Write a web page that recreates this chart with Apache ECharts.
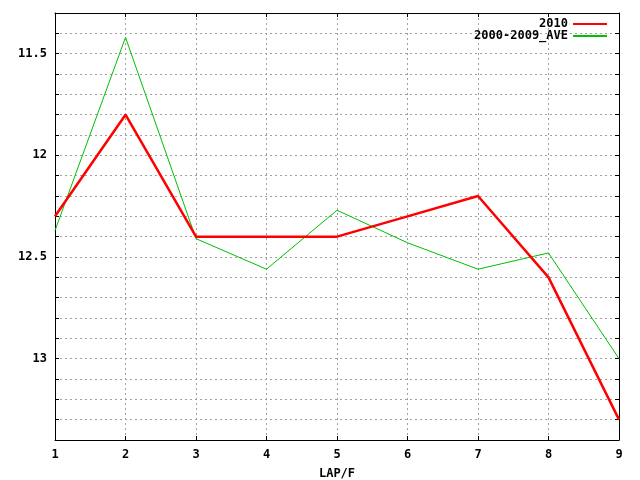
<!DOCTYPE html>
<html>
<head>
<meta charset="utf-8">
<script src="https://cdn.jsdelivr.net/npm/echarts@6/dist/echarts.min.js"></script>
<style>html,body{margin:0;padding:0;background:#fff;}#c{width:640px;height:480px;}</style>
</head>
<body>
<div id="c"></div>
<script>
var laps = [1, 2, 3, 4, 5, 6, 7, 8, 9];
var series2010 = [12.3, 11.8, 12.4, 12.4, 12.4, 12.3, 12.2, 12.6, 13.3];
var seriesAve = [12.37, 11.42, 12.41, 12.56, 12.27, 12.43, 12.56, 12.48, 13.0];
var seriesNames = ['2010', '2000-2009_AVE'];

var font = 'DejaVu Sans Mono';
var chart = echarts.init(document.getElementById('c'));
function pairs(vals) { return laps.map(function (x, i) { return [x, vals[i]]; }); }
var axisLine = { show: true, lineStyle: { color: '#000', width: 1 } };
var tick = { show: true, inside: true, length: 4, lineStyle: { color: '#000' } };
chart.setOption({
  animation: false,
  backgroundColor: '#fff',
  grid: { left: 55, top: 13, right: 21, bottom: 40, outerBoundsMode: 'none', containLabel: false },
  legend: {
    orient: 'vertical', right: 28, top: 13, align: 'right',
    itemWidth: 34, itemHeight: 2, itemGap: 0,
    textStyle: { fontFamily: font, fontWeight: 'bold', fontSize: 12, color: '#000', lineHeight: 12 },
    data: [
      { name: seriesNames[0], icon: 'rect', itemStyle: { color: '#ff0000' } },
      { name: seriesNames[1], icon: 'rect', itemStyle: { color: '#00c000' } }
    ]
  },
  xAxis: [{
    type: 'value', min: 1, max: 9, interval: 1,
    name: 'LAP/F', nameLocation: 'middle', nameGap: 28,
    nameTextStyle: { fontFamily: font, fontWeight: 'bold', fontSize: 12, color: '#000' },
    axisLine: axisLine, axisTick: tick,
    axisLabel: { fontFamily: font, fontWeight: 'bold', fontSize: 12, color: '#000', margin: 9 },
    splitLine: { show: true, lineStyle: { color: '#a0a0a0', type: [2, 3], width: 1 } }
  }, {
    type: 'value', position: 'top', min: 1, max: 9, interval: 1,
    axisLine: axisLine, axisTick: tick, axisLabel: { show: false }, splitLine: { show: false }
  }],
  yAxis: [{
    type: 'value', inverse: true, min: 11.3, max: 13.4, interval: 0.1,
    axisLine: axisLine, axisTick: tick,
    axisLabel: {
      fontFamily: font, fontWeight: 'bold', fontSize: 12, color: '#000', margin: 8,
      formatter: function (v) {
        var d = v * 2;
        if (Math.abs(d - Math.round(d)) < 1e-6) { return String(Math.round(d) / 2); }
        return '';
      }
    },
    splitLine: { show: true, lineStyle: { color: '#a0a0a0', type: [2, 3], width: 1 } }
  }, {
    type: 'value', position: 'right', inverse: true, min: 11.3, max: 13.4, interval: 0.1,
    axisLine: axisLine, axisTick: tick, axisLabel: { show: false }, splitLine: { show: false }
  }],
  series: [
    { name: seriesNames[0], type: 'line', data: pairs(series2010), symbol: 'none',
      lineStyle: { color: '#ff0000', width: 2.5 }, itemStyle: { color: '#ff0000' }, z: 3 },
    { name: seriesNames[1], type: 'line', data: pairs(seriesAve), symbol: 'none',
      lineStyle: { color: '#00c000', width: 1 }, itemStyle: { color: '#00c000' }, z: 2 }
  ]
});
</script>
</body>
</html>
